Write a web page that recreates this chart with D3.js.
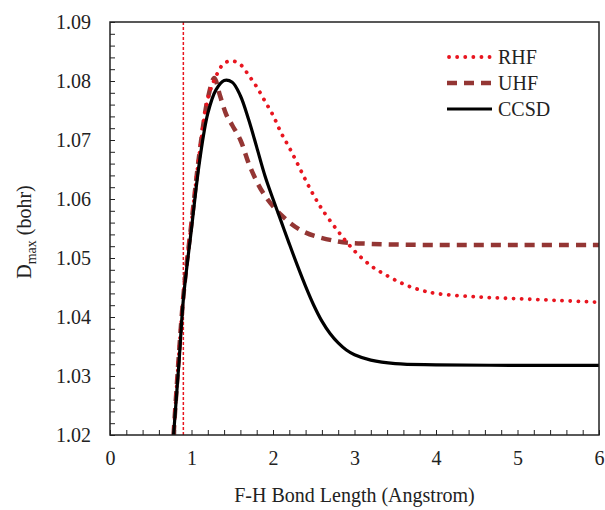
<!DOCTYPE html>
<html>
<head>
<meta charset="utf-8">
<script src="https://cdn.jsdelivr.net/npm/d3@7"></script>
<style>
  body { margin: 0; background: #fff; }
  svg text { font-family: "Liberation Serif", "DejaVu Serif", "Times New Roman", serif !important; fill: #222; }
</style>
</head>
<body>
<svg id="chart" width="605" height="510"></svg>
<script>
// bond length (Angstrom) for each curve
const ccsdX = [0.78, 0.85, 0.9, 1.0, 1.1, 1.2, 1.3, 1.4, 1.5, 1.6, 1.7, 1.8, 1.9, 2.0, 2.1, 2.2, 2.3, 2.4, 2.5, 2.6, 2.7, 2.8, 2.9, 3.0, 3.2, 3.5, 4.0, 5.0, 6.0];
const ccsdY = [1.02, 1.033, 1.043, 1.055, 1.0665, 1.0745, 1.0785, 1.0801, 1.0798, 1.0775, 1.0735, 1.0688, 1.064, 1.06, 1.0562, 1.0524, 1.0487, 1.0452, 1.042, 1.0393, 1.0372, 1.0356, 1.0344, 1.0336, 1.0327, 1.0321, 1.0319, 1.0318, 1.0318];

const rhfX = [0.78, 0.9, 1.0, 1.1, 1.2, 1.3, 1.4, 1.5, 1.6, 1.7, 1.8, 1.9, 2.0, 2.1, 2.2, 2.3, 2.4, 2.5, 2.6, 2.8, 3.0, 3.2, 3.4, 3.6, 3.8, 4.0, 4.5, 5.0, 5.5, 6.0];
const rhfY = [1.02, 1.0435, 1.056, 1.068, 1.077, 1.0808, 1.083, 1.0834, 1.0828, 1.081, 1.079, 1.0766, 1.0742, 1.0712, 1.0687, 1.066, 1.0632, 1.0606, 1.0583, 1.0545, 1.0512, 1.0487, 1.047, 1.0456, 1.0446, 1.044, 1.0434, 1.0431, 1.0428, 1.0425];

const uhfX = [0.78, 0.9, 1.0, 1.1, 1.2, 1.28, 1.35, 1.43, 1.5, 1.6, 1.72, 1.88, 2.1, 2.37, 2.8, 3.2, 4.0, 5.0, 6.0];
const uhfY = [1.02, 1.0435, 1.056, 1.068, 1.077, 1.0805, 1.0775, 1.0742, 1.0725, 1.07, 1.0654, 1.061, 1.0573, 1.0545, 1.0528, 1.0524, 1.0522, 1.0522, 1.0522];

const seriesNames = ["RHF", "UHF", "CCSD"];
const xTicks = [0, 1, 2, 3, 4, 5, 6];
const yTicks = [1.02, 1.03, 1.04, 1.05, 1.06, 1.07, 1.08, 1.09];
const eqBond = 0.9;

const FONT = '"Liberation Serif", "DejaVu Serif", serif';

const svg = d3.select("#chart");
const margin = { top: 22, right: 6, bottom: 75, left: 110 };
const width = 605 - margin.left - margin.right;
const height = 510 - margin.top - margin.bottom;

const g = svg.append("g").attr("transform", `translate(${margin.left},${margin.top})`);

const x = d3.scaleLinear().domain([0, 6]).range([0, width]);
const y = d3.scaleLinear().domain([1.02, 1.09]).range([height, 0]);

g.append("clipPath")
  .attr("id", "plot-clip")
  .append("rect")
  .attr("width", width)
  .attr("height", height);

// minor ticks, pointing into the plot
g.append("g")
  .attr("transform", `translate(0,${height})`)
  .call(d3.axisTop(x).tickValues(d3.range(0, 6.001, 0.2)).tickSize(5).tickFormat(""))
  .call((a) => a.select(".domain").remove())
  .selectAll("line").attr("stroke", "#222");

g.append("g")
  .call(d3.axisRight(y).tickValues(d3.range(1.02, 1.0901, 0.002)).tickSize(5).tickFormat(""))
  .call((a) => a.select(".domain").remove())
  .selectAll("line").attr("stroke", "#222");

// tick labels
g.append("g")
  .attr("transform", `translate(0,${height})`)
  .attr("font-family", FONT)
  .call(d3.axisBottom(x).tickValues(xTicks).tickSize(0).tickPadding(16).tickFormat(d3.format("d")))
  .call((a) => a.select(".domain").remove())
  .selectAll("text")
  .attr("font-family", FONT)
  .style("font-size", "20px");

g.append("g")
  .call(d3.axisLeft(y).tickValues(yTicks).tickSize(0).tickPadding(19).tickFormat(d3.format(".2f")))
  .call((a) => a.select(".domain").remove())
  .selectAll("text")
  .attr("font-family", FONT)
  .style("font-size", "20px");

// equilibrium marker
g.append("line")
  .attr("x1", x(eqBond))
  .attr("x2", x(eqBond))
  .attr("y1", 0)
  .attr("y2", height)
  .attr("stroke", "#e8151f")
  .attr("stroke-width", 1.5)
  .attr("stroke-dasharray", "3 2");

const line = d3.line()
  .x((d) => x(d[0]))
  .y((d) => y(d[1]))
  .curve(d3.curveCatmullRom.alpha(0.5));

const curves = g.append("g").attr("clip-path", "url(#plot-clip)");

curves.append("path")
  .datum(d3.zip(uhfX, uhfY))
  .attr("fill", "none")
  .attr("stroke", "#943634")
  .attr("stroke-width", 4.5)
  .attr("stroke-dasharray", "10 7")
  .attr("d", line);

curves.append("path")
  .datum(d3.zip(rhfX, rhfY))
  .attr("fill", "none")
  .attr("stroke", "#e8151f")
  .attr("stroke-width", 3.8)
  .attr("stroke-linecap", "round")
  .attr("stroke-dasharray", "0.1 8")
  .attr("d", line);

curves.append("path")
  .datum(d3.zip(ccsdX, ccsdY))
  .attr("fill", "none")
  .attr("stroke", "#000")
  .attr("stroke-width", 3.2)
  .attr("d", line);

// frame
g.append("rect")
  .attr("width", width)
  .attr("height", height)
  .attr("fill", "none")
  .attr("stroke", "#222")
  .attr("stroke-width", 1.5);

// legend
const legendStyles = [
  { color: "#e8151f", w: 3.8, dash: "0.1 8", cap: "round" },
  { color: "#943634", w: 4.5, dash: "10 7", cap: "butt" },
  { color: "#000", w: 3.2, dash: null, cap: "butt" },
];

const legend = g.selectAll(".legend-item")
  .data(seriesNames)
  .enter()
  .append("g")
  .attr("class", "legend-item")
  .attr("transform", (d, i) => `translate(${447 - margin.left},${35 + i * 26})`);

legend.append("line")
  .attr("x1", (d, i) => (i === 0 ? 2 : 0))
  .attr("x2", 45)
  .attr("stroke", (d, i) => legendStyles[i].color)
  .attr("stroke-width", (d, i) => legendStyles[i].w)
  .attr("stroke-linecap", (d, i) => legendStyles[i].cap)
  .attr("stroke-dasharray", (d, i) => legendStyles[i].dash);

legend.append("text")
  .attr("x", 51)
  .attr("dy", "0.35em")
  .attr("font-family", FONT)
  .text((d) => d)
  .style("font-size", "20px");

// axis titles
svg.append("text")
  .attr("x", margin.left + width / 2)
  .attr("y", 502)
  .attr("text-anchor", "middle")
  .attr("font-family", FONT)
  .style("font-size", "20px")
  .text("F-H Bond Length (Angstrom)");

const yTitle = svg.append("text")
  .attr("transform", "translate(31,232) rotate(-90)")
  .attr("text-anchor", "middle")
  .attr("font-family", FONT)
  .style("font-size", "20px");
yTitle.append("tspan").text("D");
yTitle.append("tspan").attr("dy", 5).style("font-size", "14px").text("max");
yTitle.append("tspan").attr("dy", -5).text(" (bohr)");
</script>
</body>
</html>
